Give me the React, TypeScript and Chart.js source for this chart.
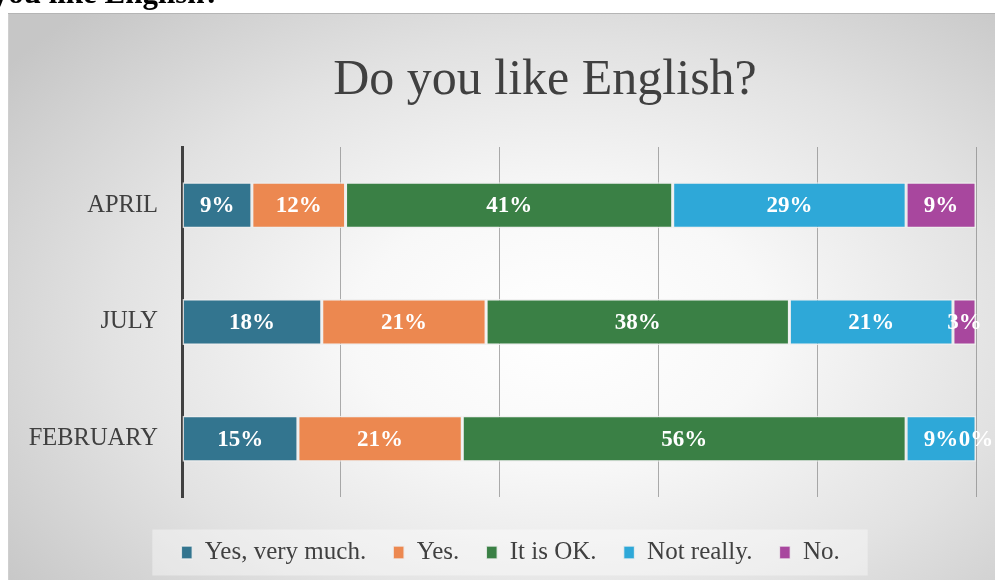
import React, { useEffect, useRef } from 'react';
import { Chart, registerables } from 'chart.js';

Chart.register(...registerables);

// ---- data ----
const categories = ['APRIL', 'JULY', 'FEBRUARY'];
const seriesNames = ['Yes, very much.', 'Yes.', 'It is OK.', 'Not really.', 'No.'];
const yesVeryMuch = [8.8, 17.6, 14.6];
const yes = [11.8, 20.7, 20.7];
const itIsOk = [41.2, 38.2, 55.9];
const notReally = [29.4, 20.6, 8.8];
const no = [8.8, 2.9, 0];
const xTickValues = [0, 20, 40, 60, 80, 100];

const seriesValues = [yesVeryMuch, yes, itIsOk, notReally, no];
const seriesColors = ['#33758f', '#ec8850', '#3a8045', '#2ea8d8', '#a8479e'];

const serif = '"Liberation Serif", "Times New Roman", serif';

const segmentLabels = {
  id: 'segmentLabels',
  afterDatasetsDraw(chart: any) {
    const ctx = chart.ctx;
    ctx.save();
    ctx.font = `bold 23px ${serif}`;
    ctx.fillStyle = '#ffffff';
    ctx.textAlign = 'center';
    ctx.textBaseline = 'middle';
    chart.data.datasets.forEach((ds: any, di: number) => {
      const meta = chart.getDatasetMeta(di);
      meta.data.forEach((el: any, i: number) => {
        const v = ds.data[i] as number;
        const p = el.getProps(['x', 'base', 'y'], true);
        ctx.fillText(Math.round(v) + '%', (p.x + p.base) / 2, p.y + 1);
      });
    });
    ctx.restore();
  },
};

const legendBackground = {
  id: 'legendBackground',
  beforeDraw(chart: any) {
    const lg = chart.legend;
    const hb = lg && lg.legendHitBoxes;
    if (!hb || !hb.length) return;
    const first = hb[0];
    const last = hb[hb.length - 1];
    const cy = first.top + first.height / 2;
    const ctx = chart.ctx;
    ctx.save();
    ctx.fillStyle = 'rgba(255,255,255,0.38)';
    const left = first.left - 29;
    const right = last.left + last.width + 28;
    ctx.fillRect(left, cy - 23, right - left, 46);
    ctx.restore();
  },
};

function ChartCanvas() {
  const ref = useRef<HTMLCanvasElement | null>(null);
  useEffect(() => {
    if (!ref.current) return;
    const chart = new Chart(ref.current, {
      type: 'bar',
      data: {
        labels: categories,
        datasets: seriesNames.map((name, i) => ({
          label: name,
          data: seriesValues[i],
          backgroundColor: seriesColors[i],
          borderColor: 'rgba(238,238,238,0.85)',
          borderWidth: 1.5,
          borderSkipped: false,
          barPercentage: 0.394,
          categoryPercentage: 1,
        })),
      },
      options: {
        indexAxis: 'y',
        responsive: false,
        animation: false,
        layout: { padding: { left: 0, right: 0, top: 134, bottom: 5 } },
        plugins: {
          title: { display: false },
          tooltip: { enabled: false },
          legend: {
            position: 'bottom',
            labels: {
              font: { family: serif, size: 25 },
              color: '#404040',
              boxWidth: 11,
              boxHeight: 13,
              padding: 27,
            },
          },
        },
        scales: {
          x: {
            stacked: true,
            min: xTickValues[0],
            max: xTickValues[xTickValues.length - 1],
            ticks: { display: false, stepSize: xTickValues[1] - xTickValues[0] },
            grid: { color: 'rgba(120,120,120,0.6)', drawTicks: false, lineWidth: 1 },
            border: { display: false },
            afterFit: (s: any) => {
              s.height = 16;
            },
          },
          y: {
            stacked: true,
            ticks: { font: { family: serif, size: 24.5 }, color: '#404040', padding: 24 },
            grid: { display: false, drawTicks: false },
            border: { display: true, color: '#404040', width: 3 },
            afterFit: (s: any) => {
              s.width = 174;
            },
          },
          // empty right-hand spacer axis so the chart area stops short of the legend's span
          spacer: {
            type: 'linear',
            axis: 'y',
            position: 'right',
            display: true,
            ticks: { display: false },
            grid: { display: false, drawTicks: false },
            border: { display: false },
            afterFit: (s: any) => {
              s.width = 37;
            },
          },
        },
      } as any,
      plugins: [legendBackground, segmentLabels],
    });
    return () => chart.destroy();
  }, []);
  return <canvas ref={ref} width={1005} height={567} style={{ position: 'absolute', left: 0, top: 0 }} />;
}

export default function App() {
  return (
    <>
      <div
        style={{
          position: 'fixed',
          left: -53,
          top: -23,
          font: `bold 31px/31px ${serif}`,
          color: '#000',
          whiteSpace: 'nowrap',
        }}
      >
        Do you like English?
      </div>
      <div
        style={{
          position: 'fixed',
          left: 8,
          top: 13,
          width: 987,
          height: 567,
          overflow: 'hidden',
          background:
            'radial-gradient(ellipse 70% 78% at 56% 56%, #ffffff 0%, #f8f8f8 30%, #e2e2e2 65%, #c6c6c6 100%)',
          boxShadow: 'inset 0 1px 0 #b5b5b5, inset 1px 0 0 #cfcfcf',
        }}
      >
        <div
          style={{
            position: 'absolute',
            left: 537,
            top: 39,
            transform: 'translateX(-50%)',
            font: `50px/50px ${serif}`,
            color: '#404040',
            whiteSpace: 'nowrap',
          }}
        >
          Do you like English?
        </div>
        <ChartCanvas />
      </div>
    </>
  );
}
